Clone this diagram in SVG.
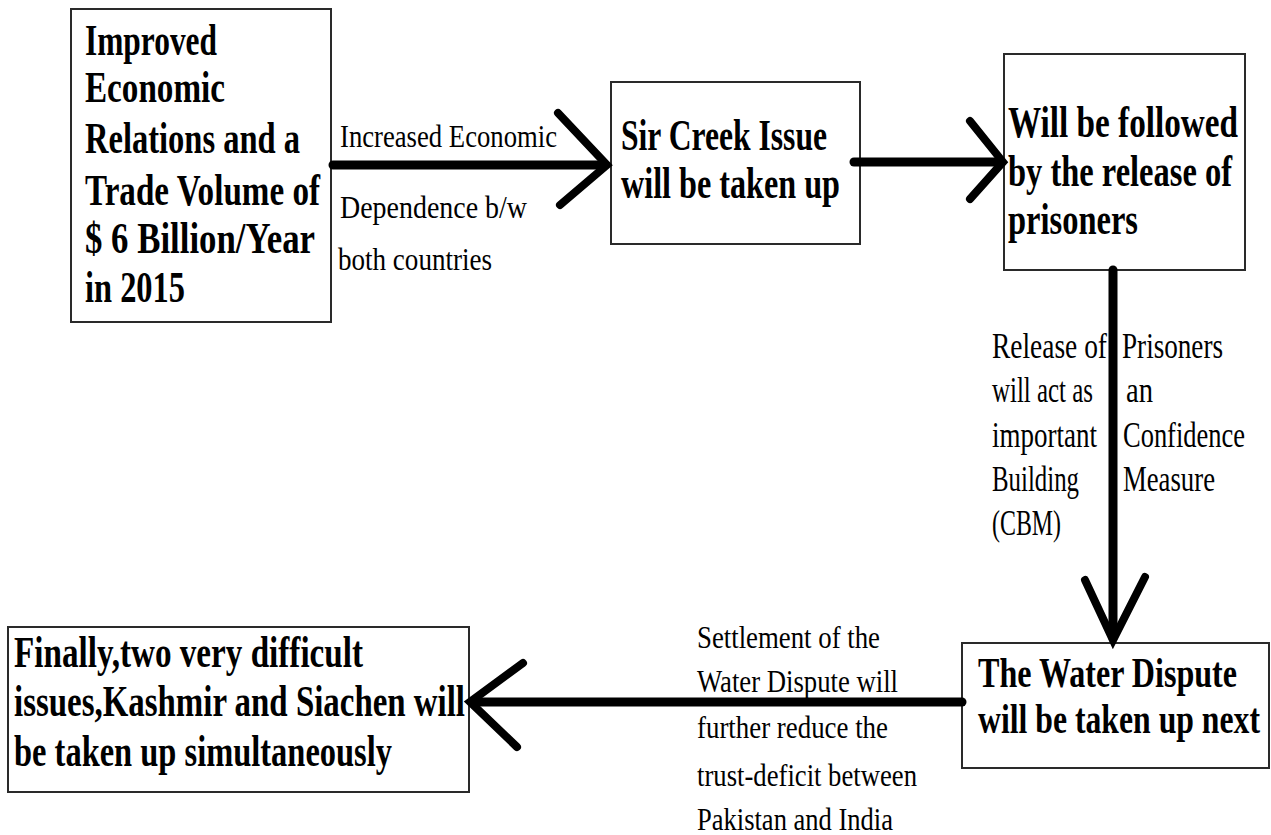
<svg xmlns="http://www.w3.org/2000/svg" width="1271" height="835" viewBox="0 0 1271 835">
<style>
.box{fill:#fff;stroke:#2a2a2a;stroke-width:2}
.bt{font-family:"Liberation Serif","Times New Roman",serif;font-weight:bold;font-size:34px;fill:#000}
.lt{font-family:"Liberation Serif","Times New Roman",serif;font-size:27px;fill:#000}
.ln{fill:none;stroke:#000;stroke-width:9;stroke-linecap:round;stroke-linejoin:round}
.hd{fill:none;stroke:#000;stroke-width:8;stroke-linecap:round;stroke-linejoin:miter}
</style>
<rect width="1271" height="835" fill="#fff"/>
<g id="node-economic">
<rect class="box" x="71" y="9" width="260" height="313"/>
<text class="bt" transform="translate(85,55) scale(1,1.32)" textLength="132" lengthAdjust="spacingAndGlyphs">Improved</text>
<text class="bt" transform="translate(85,102) scale(1,1.32)" textLength="140" lengthAdjust="spacingAndGlyphs">Economic</text>
<text class="bt" transform="translate(85,153) scale(1,1.32)" textLength="215" lengthAdjust="spacingAndGlyphs">Relations and a</text>
<text class="bt" transform="translate(85,205) scale(1,1.32)" textLength="235" lengthAdjust="spacingAndGlyphs">Trade Volume of</text>
<text class="bt" transform="translate(85,253) scale(1,1.32)" textLength="230" lengthAdjust="spacingAndGlyphs">$ 6 Billion/Year</text>
<text class="bt" transform="translate(85,302) scale(1,1.32)" textLength="100" lengthAdjust="spacingAndGlyphs">in 2015</text>
</g>
<g id="node-sircreek">
<rect class="box" x="611" y="82" width="249" height="162"/>
<text class="bt" transform="translate(621,150) scale(1,1.28)" textLength="206" lengthAdjust="spacingAndGlyphs">Sir Creek Issue</text>
<text class="bt" transform="translate(621,198) scale(1,1.28)" textLength="219" lengthAdjust="spacingAndGlyphs">will be taken up</text>
</g>
<g id="node-prisoners">
<rect class="box" x="1004" y="54" width="241" height="216"/>
<text class="bt" transform="translate(1008,137) scale(1,1.28)" textLength="230" lengthAdjust="spacingAndGlyphs">Will be followed</text>
<text class="bt" transform="translate(1008,186) scale(1,1.28)" textLength="224" lengthAdjust="spacingAndGlyphs">by the release of</text>
<text class="bt" transform="translate(1008,234) scale(1,1.28)" textLength="130" lengthAdjust="spacingAndGlyphs">prisoners</text>
</g>
<g id="node-water">
<rect class="box" x="962" y="643" width="307" height="125"/>
<text class="bt" font-size="30" transform="translate(978,687) scale(1,1.26)" textLength="259" lengthAdjust="spacingAndGlyphs">The Water Dispute</text>
<text class="bt" font-size="30" transform="translate(978,733) scale(1,1.26)" textLength="282" lengthAdjust="spacingAndGlyphs">will be taken up next</text>
</g>
<g id="node-kashmir">
<rect class="box" x="8" y="627" width="461" height="165"/>
<text class="bt" transform="translate(14,667) scale(1,1.32)" textLength="349" lengthAdjust="spacingAndGlyphs">Finally,two very difficult</text>
<text class="bt" transform="translate(14,716) scale(1,1.32)" textLength="451" lengthAdjust="spacingAndGlyphs">issues,Kashmir and Siachen will</text>
<text class="bt" transform="translate(14,766) scale(1,1.32)" textLength="378" lengthAdjust="spacingAndGlyphs">be taken up simultaneously</text>
</g>
<g id="connectors">
<path class="ln" d="M333,165 H605"/>
<path class="hd" d="M558,113 L607,165 L560,205"/>
<path class="ln" d="M854,162 H1001"/>
<path class="hd" d="M970,121 L1003,162 L970,199"/>
<path class="ln" d="M1113,270 V638" stroke-width="6"/>
<path class="hd" d="M1085,580 L1113,640 L1145,577"/>
<path class="ln" d="M962,702 H472" stroke-width="8"/>
<path class="hd" d="M523,663 L470,702 L517,747"/>
</g>
<g id="labels">
<text class="lt" transform="translate(340,147) scale(1,1.2)" textLength="217" lengthAdjust="spacingAndGlyphs">Increased Economic</text>
<text class="lt" transform="translate(340,218) scale(1,1.2)" textLength="187" lengthAdjust="spacingAndGlyphs">Dependence b/w</text>
<text class="lt" transform="translate(338,270) scale(1,1.2)" textLength="154" lengthAdjust="spacingAndGlyphs">both countries</text>
<text class="lt" transform="translate(992,358) scale(1,1.3)" textLength="115" lengthAdjust="spacingAndGlyphs">Release of</text>
<text class="lt" transform="translate(992,402) scale(1,1.3)" textLength="101" lengthAdjust="spacingAndGlyphs">will act as</text>
<text class="lt" transform="translate(992,447) scale(1,1.3)" textLength="105" lengthAdjust="spacingAndGlyphs">important</text>
<text class="lt" transform="translate(992,491) scale(1,1.3)" textLength="87" lengthAdjust="spacingAndGlyphs">Building</text>
<text class="lt" transform="translate(992,535) scale(1,1.3)" textLength="69" lengthAdjust="spacingAndGlyphs">(CBM)</text>
<text class="lt" transform="translate(1122,358) scale(1,1.3)" textLength="101" lengthAdjust="spacingAndGlyphs">Prisoners</text>
<text class="lt" transform="translate(1126,402) scale(1,1.3)" textLength="27" lengthAdjust="spacingAndGlyphs">an</text>
<text class="lt" transform="translate(1123,447) scale(1,1.3)" textLength="122" lengthAdjust="spacingAndGlyphs">Confidence</text>
<text class="lt" transform="translate(1123,491) scale(1,1.3)" textLength="92" lengthAdjust="spacingAndGlyphs">Measure</text>
<text class="lt" transform="translate(697,648) scale(1,1.15)" textLength="183" lengthAdjust="spacingAndGlyphs">Settlement of the</text>
<text class="lt" transform="translate(697,692) scale(1,1.15)" textLength="201" lengthAdjust="spacingAndGlyphs">Water Dispute will</text>
<text class="lt" transform="translate(697,738) scale(1,1.15)" textLength="191" lengthAdjust="spacingAndGlyphs">further reduce the</text>
<text class="lt" transform="translate(697,786) scale(1,1.15)" textLength="220" lengthAdjust="spacingAndGlyphs">trust-deficit between</text>
<text class="lt" transform="translate(697,830) scale(1,1.15)" textLength="196" lengthAdjust="spacingAndGlyphs">Pakistan and India</text>
</g>
</svg>
